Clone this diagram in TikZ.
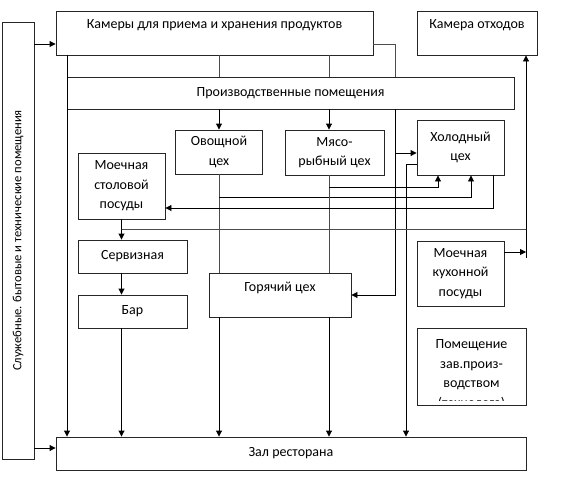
\documentclass[tikz,border=0pt]{standalone}
\usepackage{fontspec}
\setmainfont{Carlito}
\usetikzlibrary{positioning,arrows.meta}

\begin{document}
\begin{tikzpicture}[x=1pt,y=-1pt]
	\tikzstyle{every node}=[font=\fontsize{14}{19.5}\selectfont, align=center, inner sep=0pt]
	\tikzstyle{room}=[draw=black!85, line width=0.9pt, rectangle]
	\tikzstyle{uptext}=[text height=10pt, text depth=#1]
	\tikzstyle{link}=[draw=black!70, line width=0.9pt]
	\tikzstyle{flow}=[draw=black, line width=0.9pt, -{Triangle[length=6pt,width=6pt]}]
	\useasboundingbox (0,0) rectangle (581,482);

	\node (side) [room, rotate=90, font=\fontsize{12.6}{15}\selectfont, minimum width=437pt, minimum height=32pt] at (18,240.5) {Служебные. бытовые и технические помещения};
	\node (kamery) [room, uptext=19pt, minimum width=317pt, minimum height=44pt] at (214.5,33) {Камеры для приема и хранения продуктов};
	\node (otkhod) [room, uptext=19pt, minimum width=120pt, minimum height=44pt] at (477,33) {Камера отходов};
	\node (proizv) [room, minimum width=447pt, minimum height=32pt] at (290.5,93) {Производственные помещения};
	\node (ovosh) [room, minimum width=87pt, minimum height=44pt] at (219,152) {Овощной\\цех};
	\node (myaso) [room, minimum width=99pt, minimum height=45pt] at (334.5,152.5) {Мясо-\\рыбный цех};
	\node (holod) [room, minimum width=87pt, minimum height=55pt] at (460.5,147.5) {Холодный\\цех};
	\node (moechstol) [room, minimum width=87pt, minimum height=66pt] at (121.5,186) {Моечная\\столовой\\посуды};
	\node (serviz) [room, minimum width=109pt, minimum height=33pt] at (132.5,256.5) {Сервизная};
	\node (bar) [room, minimum width=109pt, minimum height=33pt] at (132.5,311.5) {Бар};
	\node (goryach) [room, uptext=17pt, minimum width=142pt, minimum height=44pt] at (280,295) {Горячий цех};
	\node (moechkuh) [room, minimum width=87pt, minimum height=65pt] at (460.5,273.5) {Моечная\\кухонной\\посуды};
	\node (pomesh) [room, minimum width=109pt, minimum height=77pt] at (471.5,366.5) {};
	\node (zal) [room, minimum width=470pt, minimum height=33pt] at (291,453.5) {Зал ресторана};
	\begin{scope}
		\clip (pomesh.north west) rectangle ([yshift=5pt]pomesh.south east);
		\node (pomeshtext) [anchor=north] at ([yshift=-12pt]pomesh.north) {Помещение\\зав.произ-\\водством\\(технолога)};
	\end{scope}

	% lanes
	\coordinate (lA) at (67,0);
	\coordinate (lM) at (329,0);
	\coordinate (lP) at (395,0);
	\coordinate (lK) at (406,0);
	\coordinate (lW) at (526,0);

	% entrances
	\draw[flow] (side.south |- 0,44) -- (kamery.west |- 0,44);
	\draw[flow] (side.south |- 0,448) -- (zal.west |- 0,448);
	% from kamery
	\draw[flow] (kamery.south -| lA) -- (zal.north -| lA);
	\draw[link] (kamery.south -| ovosh) -- (proizv.north -| ovosh);
	\draw[link] (kamery.south -| lM) -- (proizv.north -| lM);
	\draw[link] (kamery.east |- 0,44) -| (proizv.north -| lP);
	% from proizv
	\draw[flow] (proizv.south -| ovosh) -- (ovosh.north);
	\draw[flow] (proizv.south -| lM) -- (myaso.north -| lM);
	\draw[flow] (proizv.south -| lP) |- (goryach.east);
	\draw[flow] (lP |- 0,153) -- (holod.west |- 0,153);
	\draw[flow] (holod.west |- 0,164) -| (zal.north -| lK);
	% into holod
	\draw[link] (ovosh.south) -- (goryach.north -| ovosh);
	\draw[flow] (ovosh.south |- 0,197) -| (holod.south -| 471,0);
	\draw[link] (myaso.south -| lM) -- (goryach.north -| lM);
	\draw[flow] (lM |- 0,187) -| (holod.south -| 438,0);
	\draw[flow] (holod.south -| 493,0) |- (moechstol.east |- 0,208);
	% dishes and service
	\draw[flow] (moechstol.south) -- (serviz.north -| moechstol);
	\draw[link] (moechstol.south |- 0,229) -- (lW |- 0,229);
	\draw[flow] (serviz.south -| moechstol) -- (bar.north -| moechstol);
	% into zal
	\draw[flow] (bar.south -| moechstol) -- (zal.north -| moechstol);
	\draw[flow] (goryach.south -| ovosh) -- (zal.north -| ovosh);
	\draw[flow] (goryach.south -| lM) -- (zal.north -| lM);
	% waste
	\draw[flow] (moechkuh.east |- 0,252) -- (lW |- 0,252);
	\draw[flow] (lW |- 0,258) -- (otkhod.south -| lW);
\end{tikzpicture}
\end{document}
